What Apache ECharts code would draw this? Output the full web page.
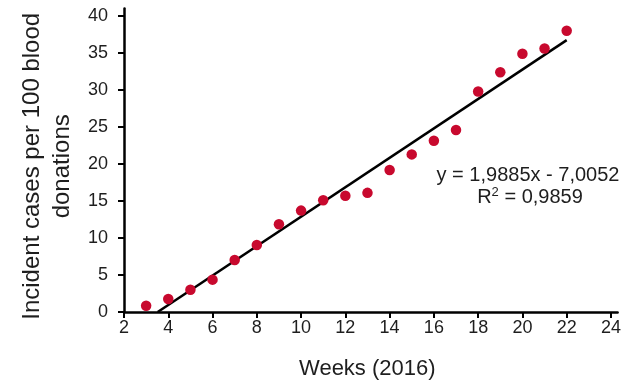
<!DOCTYPE html>
<html>
<head>
<meta charset="utf-8">
<script src="https://cdn.jsdelivr.net/npm/echarts@6/dist/echarts.min.js"></script>
<style>
html,body{margin:0;padding:0;background:#fff;}
#chart{width:628px;height:385px;}
</style>
</head>
<body>
<div id="chart"></div>
<script>
const weeks = [3, 4, 5, 6, 7, 8, 9, 10, 11, 12, 13, 14, 15, 16, 17, 18, 19, 20, 21, 22];
const incidence = [0.85, 1.76, 3.0, 4.37, 7.03, 9.05, 11.85, 13.7, 15.1, 15.7, 16.1, 19.2, 21.3, 23.15, 24.6, 29.8, 32.4, 34.9, 35.6, 38.0];
const xTicks = [2, 4, 6, 8, 10, 12, 14, 16, 18, 20, 22, 24];
const yTicks = [0, 5, 10, 15, 20, 25, 30, 35, 40];
const slope = 1.9885;
const intercept = -7.0052;
const trendXStart = 3.523;
const trendXEnd = 22;
const equationText = 'y = 1,9885x - 7,0052';
const r2Text = '0,9859';
const xTitle = 'Weeks (2016)';
const yTitle = 'Incident cases per 100 blood\ndonations';

const points = weeks.map((w, i) => [w, incidence[i]]);
const trend = [trendXStart, trendXEnd].map(x => [x, slope * x + intercept]);

const FONT = '"Liberation Sans", Arial, Helvetica, sans-serif';
const TXT = '#1e1e1e';

const chart = echarts.init(document.getElementById('chart'), null, {renderer: 'canvas'});
chart.setOption({
  animation: false,
  backgroundColor: '#ffffff',
  grid: {left: 124, top: 8.6, right: 10.4, bottom: 73, containLabel: false, outerBoundsMode: 'none'},
  xAxis: {
    type: 'value', min: 2, max: 24.3,
    name: xTitle, nameLocation: 'middle', nameGap: 46,
    nameTextStyle: {fontFamily: FONT, fontSize: 22, color: TXT, padding: [0, 7, 0, 0]},
    axisLine: {show: true, onZero: false, lineStyle: {color: '#000', width: 2.5}},
    axisTick: {show: true, inside: false, length: 6, lineStyle: {color: '#000', width: 2}, customValues: xTicks},
    axisLabel: {fontFamily: FONT, fontSize: 18, color: TXT, margin: 7, customValues: xTicks},
    splitLine: {show: false}
  },
  yAxis: {
    type: 'value', min: 0, max: 41,
    name: yTitle, nameLocation: 'middle', nameRotate: 90, nameGap: 47,
    nameTextStyle: {fontFamily: FONT, fontSize: 24, color: TXT, lineHeight: 30, align: 'center', padding: [0, 12, 0, 0]},
    axisLine: {show: true, onZero: false, lineStyle: {color: '#000', width: 2.5}},
    axisTick: {show: true, inside: false, length: 6, lineStyle: {color: '#000', width: 2}, customValues: yTicks},
    axisLabel: {fontFamily: FONT, fontSize: 18, color: TXT, margin: 16, customValues: yTicks},
    splitLine: {show: false}
  },
  series: [
    {
      type: 'line', data: trend, symbol: 'none', z: 2,
      lineStyle: {color: '#000', width: 2.5}
    },
    {
      type: 'scatter', data: points, symbol: 'circle', symbolSize: 10.5, z: 3,
      itemStyle: {color: '#C8092E', opacity: 1}
    }
  ],
  graphic: [
    {
      type: 'text', x: 528, y: 175,
      style: {text: equationText, fontFamily: FONT, fontSize: 20, fill: TXT, align: 'center', verticalAlign: 'middle'}
    },
    {
      type: 'text', x: 530, y: 197,
      style: {
        text: '{r|R}{s|2}{r| = ' + r2Text + '}',
        fontFamily: FONT, fontSize: 20, fill: TXT, align: 'center', verticalAlign: 'middle',
        rich: {
          r: {fontFamily: FONT, fontSize: 20, fill: TXT, lineHeight: 22},
          s: {fontFamily: FONT, fontSize: 13, fill: TXT, lineHeight: 22, verticalAlign: 'top', padding: [0, 0, 9, 0]}
        }
      }
    }
  ]
});
</script>
</body>
</html>
